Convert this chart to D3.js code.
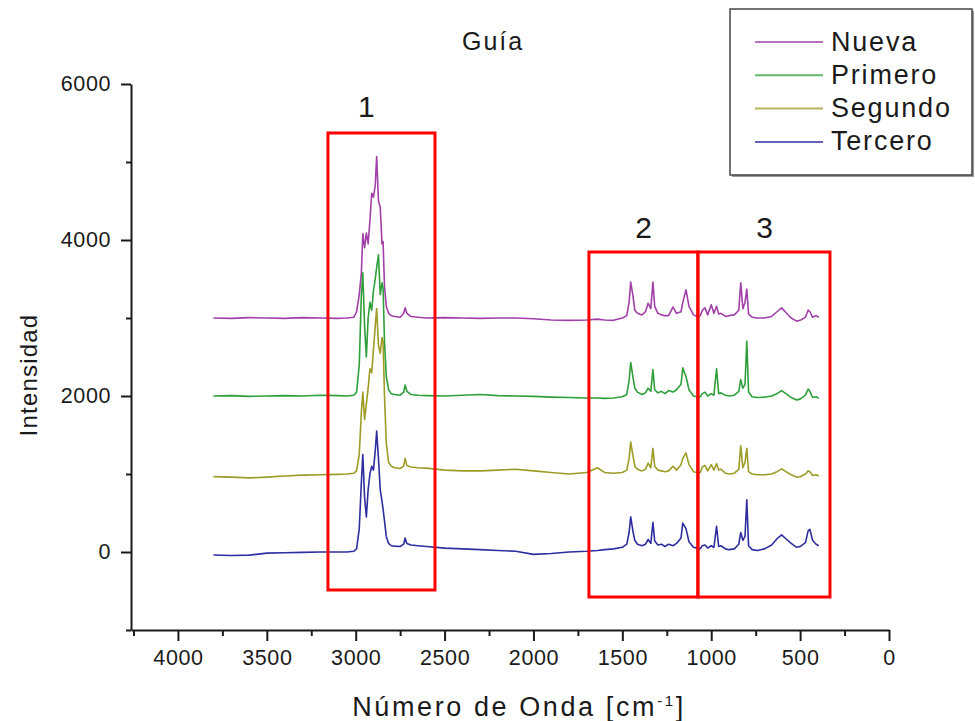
<!DOCTYPE html>
<html>
<head>
<meta charset="utf-8">
<script src="https://cdn.jsdelivr.net/npm/d3@7"></script>
<style>
  html, body { margin: 0; padding: 0; background: #fff; }
  svg { display: block; }
  text { font-family: "Liberation Sans", Arial, sans-serif; fill: #1a1a1a; }
</style>
</head>
<body>
<svg id="chart" width="975" height="721"></svg>
<script>
// ---------- DATA ----------
const wavenumbers = [3800, 3700, 3600, 3500, 3400, 3300, 3200, 3100, 3050, 3010,
  2995, 2980, 2968, 2960, 2950, 2940, 2930, 2920, 2910, 2900, 2890, 2882, 2872, 2862, 2852, 2846, 2838, 2828, 2815, 2800,
  2780, 2750, 2730, 2722, 2712, 2690, 2650, 2600,
  2500, 2400, 2300, 2200, 2100, 2000, 1900, 1800, 1700,
  1640, 1600, 1550, 1500, 1475, 1462, 1453, 1440, 1430, 1415, 1390, 1370, 1355, 1340, 1328, 1318, 1300, 1280, 1260, 1240, 1215, 1195, 1170, 1160, 1142, 1125, 1100, 1080,
  1062, 1050, 1035, 1020, 1000, 985, 970, 958, 945, 920, 900, 870, 845, 834, 822, 810, 800, 790, 770, 740, 700, 660, 630, 604, 580, 550, 520, 500, 470, 455, 445, 430, 410, 395];

const nueva = [3000, 2995, 3005, 3000, 2995, 3005, 3000, 2995, 3000, 3010,
  3080, 3300, 3580, 4080, 3900, 4090, 3950, 4250, 4600, 4550, 4700, 5070, 4500, 4420, 3950, 3980, 3400, 3150, 3060, 3030,
  3020, 3010, 3060, 3130, 3060, 3020, 3010, 3000,
  3005, 3000, 2995, 3000, 3000, 2990, 2975, 2970, 2975,
  2985, 2975, 2970, 3000, 3030, 3200, 3460, 3280, 3100, 3060, 3040, 3080, 3190, 3120, 3460, 3150, 3060, 3040, 3030, 3030, 3140, 3060, 3080, 3200, 3360, 3150, 3040, 3020,
  3030, 3100, 3130, 3040, 3170, 3060, 3150, 3050, 3060, 3020, 3030, 3040, 3100, 3450, 3120, 3200, 3370, 3050, 3010, 3000, 3000, 3020, 3080, 3130, 3070, 3000, 2960, 2970, 3010, 3100, 3080, 3010, 3030, 3010];

const primero = [2000, 2005, 1995, 2000, 2005, 2000, 2010, 2005, 2000, 2010,
  2050, 2400, 3300, 3580, 2900, 2500, 3000, 3200, 3100, 3350, 3500, 3650, 3810, 3300, 3450, 3380, 2700, 2250, 2080, 2030,
  2020, 2010, 2050, 2140, 2060, 2020, 2010, 2005,
  2000, 2010, 2020, 2005, 2000, 1995, 1985, 1980, 1975,
  1975, 1970, 1975, 1990, 2020, 2200, 2430, 2240, 2100, 2050, 2020, 2040, 2100, 2060, 2340, 2080, 2040, 2060, 2030, 2070, 2050, 2080, 2150, 2360, 2250, 2080, 2000, 1990,
  1990, 2030, 2050, 2000, 2030, 2010, 2350, 2030, 2040, 2010, 2000, 2010, 2060, 2210, 2100, 2150, 2700, 2050, 1990, 1980, 1985, 2000, 2030, 2070, 2030, 1980, 1950, 1960, 2010, 2090, 2060, 1980, 1990, 1970];

const segundo = [966, 960, 950, 960, 975, 985, 990, 995, 1000, 1010,
  1040, 1250, 1800, 2050, 1700, 1900, 2100, 2350, 2300, 2600, 2900, 3120, 2650, 2550, 2750, 2700, 2000, 1400, 1150, 1100,
  1080, 1070, 1100, 1200, 1110, 1090, 1080, 1075,
  1050, 1040, 1040, 1050, 1060, 1040, 1020, 1000, 1020,
  1080, 1020, 1010, 1020, 1050, 1200, 1410, 1230, 1100, 1060, 1040, 1060, 1140, 1080, 1330, 1100, 1050, 1040, 1030, 1040, 1100, 1050, 1120, 1200, 1270, 1120, 1030, 1020,
  1020, 1090, 1110, 1040, 1120, 1050, 1130, 1050, 1060, 1010, 1000, 1010, 1060, 1360, 1080, 1150, 1330, 1030, 1000, 990, 990, 1000, 1030, 1065, 1030, 990, 960, 965, 1000, 1040, 1030, 980, 990, 975];

const tercero = [-38, -45, -40, -15, -10, -5, 0, 0, 0, 10,
  40, 300, 900, 1250, 700, 450, 800, 1000, 1100, 1050, 1300, 1550, 1200, 800, 650, 550, 400, 200, 110, 80,
  75, 70, 100, 180, 110, 90, 80, 70,
  50, 40, 30, 20, 10, -30, -20, 0, 10,
  20, 30, 40, 60, 100, 250, 450, 260, 150, 100, 80, 100, 160, 110, 380, 140, 90, 100, 70, 100, 80, 110, 180, 370, 300, 130, 60, 50,
  40, 80, 90, 50, 80, 60, 330, 70, 80, 40, 30, 40, 100, 250, 150, 200, 670, 80, 30, 20, 40, 90, 170, 220, 170, 110, 60, 70, 120, 270, 290, 150, 100, 80];

const seriesNames = ["Nueva", "Primero", "Segundo", "Tercero"];
const seriesValues = [nueva, primero, segundo, tercero];
const seriesColors = ["#a040a8", "#2f9f3a", "#9c9c26", "#2e2ea0"];

const xTicks = [4000, 3500, 3000, 2500, 2000, 1500, 1000, 500, 0];
const xMinorTicks = [4250, 3750, 3250, 2750, 2250, 1750, 1250, 750, 250];
const yTicks = [0, 2000, 4000, 6000];
const yMinorTicks = [-1000, 1000, 3000, 5000];

// highlighted regions (wavenumber span, intensity span)
const regionLabels = ["1", "2", "3"];
const regionX = [[3156, 2554], [1688, 1075], [1075, 332]];
const regionY = [[5372, -487], [3846, -577], [3846, -577]];

const titleText = "Guía";
const xTitle = "Número de Onda [cm";
const yTitle = "Intensidad";

// ---------- CHART ----------
const svg = d3.select("#chart");
const x = d3.scaleLinear().domain([4264, 0]).range([131, 889]);
const y = d3.scaleLinear().domain([-1000, 6000]).range([630, 84]);

// spectra
const line = d3.line().x(d => x(d[0])).y(d => y(d[1]));
seriesValues.forEach((vals, i) => {
  const pts = wavenumbers.map((w, j) => [w, vals[j]]);
  svg.append("path")
    .attr("d", line(pts))
    .attr("fill", "none")
    .attr("stroke", seriesColors[i])
    .attr("stroke-width", 1.6)
    .attr("stroke-linejoin", "round");
});

// axes
const axisFont = g => g.selectAll("text")
  .style("font-family", '"Liberation Sans", Arial, sans-serif')
  .style("font-size", "21.5px")
  .style("letter-spacing", "0.6px")
  .attr("fill", "#1a1a1a");

const gx = svg.append("g").attr("transform", `translate(0,${y(-1000)})`)
  .call(d3.axisBottom(x).tickValues(xTicks).tickSize(11).tickSizeOuter(0).tickPadding(9).tickFormat(d3.format("d")));
gx.call(axisFont);
svg.append("g").attr("transform", `translate(0,${y(-1000)})`)
  .call(d3.axisBottom(x).tickValues(xMinorTicks).tickSize(6).tickSizeOuter(0).tickFormat(""))
  .select(".domain").remove();

const gy = svg.append("g").attr("transform", `translate(${x(4264)},0)`)
  .call(d3.axisLeft(y).tickValues(yTicks).tickSize(10).tickSizeOuter(0).tickPadding(10).tickFormat(d3.format("d")));
gy.call(axisFont);
svg.append("g").attr("transform", `translate(${x(4264)},0)`)
  .call(d3.axisLeft(y).tickValues(yMinorTicks).tickSize(5).tickSizeOuter(0).tickFormat(""))
  .select(".domain").remove();

svg.selectAll(".domain").attr("stroke", "#1a1a1a").attr("stroke-width", 2);
svg.selectAll(".tick line").attr("stroke", "#1a1a1a").attr("stroke-width", 2);

// red boxes
regionLabels.forEach((lab, i) => {
  const x0 = x(regionX[i][0]), x1 = x(regionX[i][1]);
  const y0 = y(regionY[i][0]), y1 = y(regionY[i][1]);
  svg.append("rect")
    .attr("x", x0).attr("y", y0)
    .attr("width", x1 - x0).attr("height", y1 - y0)
    .attr("fill", "none").attr("stroke", "#ff0000").attr("stroke-width", 3);
});
// region numbers
const labelPos = [[2940, 5580], [1380, 4020], [700, 4020]];
regionLabels.forEach((lab, i) => {
  svg.append("text")
    .attr("x", x(labelPos[i][0])).attr("y", y(labelPos[i][1]))
    .attr("text-anchor", "middle")
    .style("font-size", "30px")
    .text(lab);
});

// title
svg.append("text").attr("x", 462).attr("y", 50)
  .style("font-size", "25px").style("letter-spacing", "2px")
  .text(titleText);

// x title
const xt = svg.append("text").attr("x", 519).attr("y", 716)
  .attr("text-anchor", "middle")
  .style("font-size", "27px").style("letter-spacing", "2.6px");
xt.append("tspan").text(xTitle);
xt.append("tspan").attr("dy", -10).style("font-size", "15px").text("-1");
xt.append("tspan").attr("dy", 10).text("]");

// y title
svg.append("text")
  .attr("transform", "translate(37,375) rotate(-90)")
  .attr("text-anchor", "middle")
  .style("font-size", "24px").style("letter-spacing", "1.2px")
  .text(yTitle);

// legend
svg.append("rect").attr("x", 732).attr("y", 11).attr("width", 242).attr("height", 166).attr("fill", "#9a9a9a");
svg.append("rect").attr("x", 730).attr("y", 9).attr("width", 242).attr("height", 166)
  .attr("fill", "#fff").attr("stroke", "#444").attr("stroke-width", 1.5);
seriesNames.forEach((name, i) => {
  const ly = 42 + i * 33.3;
  svg.append("line").attr("x1", 755).attr("x2", 823).attr("y1", ly).attr("y2", ly)
    .attr("stroke", seriesColors[i]).attr("stroke-width", 2).attr("stroke-opacity", 0.75);
  svg.append("text").attr("x", 831).attr("y", ly + 8.5)
    .style("font-size", "27px").style("letter-spacing", "1.8px")
    .text(name);
});
</script>
</body>
</html>
